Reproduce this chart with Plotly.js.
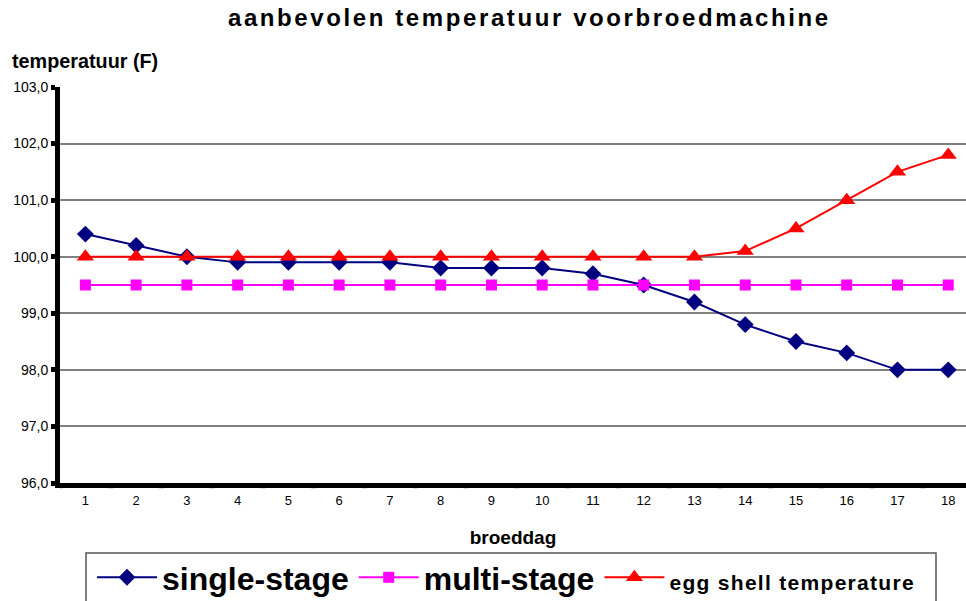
<!DOCTYPE html>
<html>
<head>
<meta charset="utf-8">
<script src="https://cdn.plot.ly/plotly-3.0.1.min.js"></script>
<style>
html,body{margin:0;padding:0;background:#fff;}
#chart{width:966px;height:601px;}
.gtitle{letter-spacing:2.6px;}
</style>
</head>
<body>
<div id="chart"></div>
<script>
const days = [1,2,3,4,5,6,7,8,9,10,11,12,13,14,15,16,17,18];
const singleStage = [100.4,100.2,100.0,99.9,99.9,99.9,99.9,99.8,99.8,99.8,99.7,99.5,99.2,98.8,98.5,98.3,98.0,98.0];
const multiStage = [99.5,99.5,99.5,99.5,99.5,99.5,99.5,99.5,99.5,99.5,99.5,99.5,99.5,99.5,99.5,99.5,99.5,99.5];
const eggShell = [100.0,100.0,100.0,100.0,100.0,100.0,100.0,100.0,100.0,100.0,100.0,100.0,100.0,100.1,100.5,101.0,101.5,101.8];
const yTicks = [96,97,98,99,100,101,102,103];

const F = 'Liberation Sans, Arial, sans-serif';
const traces = [
  {x: days, y: singleStage, name: 'single-stage', type: 'scatter', mode: 'lines+markers',
   line: {color: '#000080', width: 2}, marker: {symbol: 'diamond', size: 13, color: '#000080'}},
  {x: days, y: multiStage, name: 'multi-stage', type: 'scatter', mode: 'lines+markers',
   line: {color: '#FF00FF', width: 2}, marker: {symbol: 'square', size: 11, color: '#FF00FF'}},
  {x: days, y: eggShell, name: '<span style="font-size:21px;letter-spacing:1.3px">egg shell temperature</span>', type: 'scatter', mode: 'lines+markers',
   line: {color: '#FF0000', width: 2}, marker: {symbol: 'triangle-up', size: 15, color: '#FF0000'}}
];

const px = v => (v - 60) / 906;   // paper x from pixel
const py = v => (483 - v) / 396;  // paper y from pixel

const layout = {
  width: 966, height: 601,
  paper_bgcolor: '#fff', plot_bgcolor: '#fff',
  margin: {l: 60, r: 0, t: 87, b: 118},
  separators: ',.',
  font: {family: F, color: '#000'},
  title: {text: '<b>aanbevolen temperatuur voorbroedmachine</b>', font: {family: F, size: 24, color: '#000'},
          x: 0.548, xanchor: 'center', y: 0.970, yanchor: 'middle'},
  xaxis: {
    range: [0.5, 18.35], tickmode: 'array', tickvals: days, ticktext: days.map(String),
    showgrid: false, zeroline: false,
    showline: true, linecolor: '#000', linewidth: 5,
    ticks: '', ticklabelstandoff: 1, tickfont: {family: F, size: 13, color: '#000'},
    title: {text: '<b>broeddag</b>', font: {family: F, size: 19, color: '#000'}, standoff: 26}
  },
  yaxis: {
    range: [96, 103], tickvals: yTicks, tickformat: '.1f',
    showgrid: true, gridcolor: '#808080', gridwidth: 2, zeroline: false,
    showline: true, linecolor: '#000', linewidth: 5,
    ticks: 'outside', ticklen: 4, tickwidth: 5, tickcolor: '#000',
    tickfont: {family: F, size: 14, color: '#000'}
  },
  annotations: [
    {text: '<b>temperatuur (F)</b>', xref: 'paper', yref: 'paper', x: px(10), y: py(61),
     xanchor: 'left', yanchor: 'middle', showarrow: false, font: {family: F, size: 19.8, color: '#000'}}
  ],
  shapes: [
    {type: 'rect', xref: 'paper', yref: 'paper', x0: px(86), x1: px(936), y0: py(553), y1: py(640),
     line: {color: '#555', width: 1.5}, fillcolor: 'rgba(0,0,0,0)', layer: 'below'}
  ],
  showlegend: true,
  legend: {
    orientation: 'h', xref: 'container', yref: 'container',
    x: 92/966, xanchor: 'left', y: (601 - 550)/601, yanchor: 'top',
    borderwidth: 0, bgcolor: 'rgba(0,0,0,0)',
    font: {family: F, size: 32, color: '#000', weight: 'bold'},
    itemwidth: 60, tracegroupgap: 0
  }
};

// x tick marks at category boundaries
days.forEach(d => layout.shapes.push({type: 'line', xref: 'x', yref: 'paper', x0: d - 0.5, x1: d - 0.5, y0: 0, y1: -0.013,
  line: {color: '#000', width: 5}}));

Plotly.newPlot('chart', traces, layout, {displayModeBar: false, staticPlot: true});
</script>
</body>
</html>
